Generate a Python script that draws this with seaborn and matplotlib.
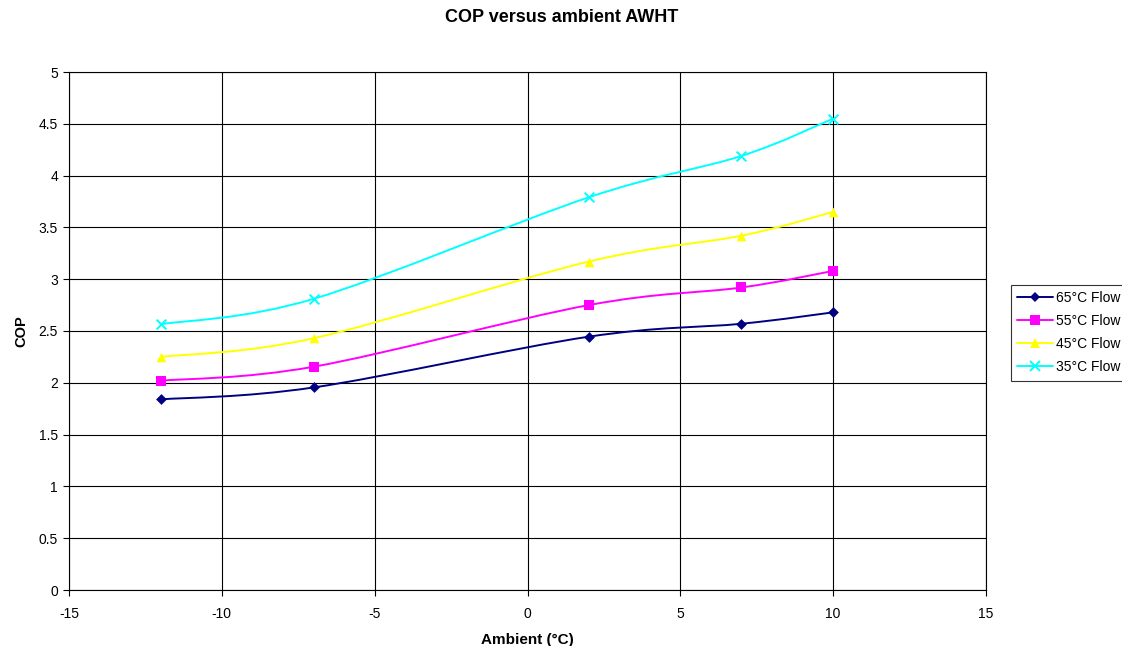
import numpy as np
import pandas as pd
import seaborn as sns
import matplotlib
matplotlib.use("Agg")
import matplotlib.pyplot as plt
from matplotlib.path import Path
from matplotlib.patches import PathPatch
from matplotlib.lines import Line2D

# Heat pump COP at each ambient temperature, per flow temperature
ambient = [-12, -7, 2, 7, 10]
cop_65 = [1.84, 1.955, 2.445, 2.57, 2.68]
cop_55 = [2.02, 2.155, 2.75, 2.92, 3.08]
cop_45 = [2.25, 2.43, 3.17, 3.42, 3.65]
cop_35 = [2.565, 2.81, 3.79, 4.19, 4.55]
series_names = ["65°C Flow", "55°C Flow", "45°C Flow", "35°C Flow"]

colors = ["#000080", "#FF00FF", "#FFFF00", "#00FFFF"]
markers = ["D", "s", "^", "x"]
msizes = [5.5, 6.5, 7, 7]

sns.set_style("white")
plt.rcParams["font.family"] = ["Liberation Sans", "DejaVu Sans"]
plt.rcParams["axes.unicode_minus"] = False
plt.rcParams["text.color"] = "black"
plt.rcParams["axes.labelcolor"] = "black"
plt.rcParams["xtick.color"] = "black"
plt.rcParams["ytick.color"] = "black"

frames = []
for name, vals in zip(series_names, [cop_65, cop_55, cop_45, cop_35]):
    frames.append(pd.DataFrame({"Ambient": ambient, "COP": vals, "Series": name}))
df = pd.concat(frames, ignore_index=True)

fig = plt.figure(figsize=(11.22, 6.46), dpi=100)
ax = fig.add_axes([69 / 1122, 1 - 590 / 646, (986 - 69) / 1122, (590 - 72) / 646])


def smooth_path(xs, ys):
    """Cubic Bezier path through the points (Catmull-Rom style, tension 1/6)."""
    pts = np.column_stack([xs, ys]).astype(float)
    n = len(pts)
    verts = [pts[0]]
    codes = [Path.MOVETO]
    for i in range(n - 1):
        p0 = pts[i - 1] if i > 0 else pts[i]
        p1 = pts[i]
        p2 = pts[i + 1]
        p3 = pts[i + 2] if i + 2 < n else pts[i + 1]
        c1 = p1 + (p2 - p0) / 6.0
        c2 = p2 - (p3 - p1) / 6.0
        verts += [c1, c2, p2]
        codes += [Path.CURVE4] * 3
    return Path(verts, codes)


for name, col in zip(series_names, colors):
    sub = df[df["Series"] == name]
    patch = PathPatch(smooth_path(sub["Ambient"].values, sub["COP"].values),
                      facecolor="none", edgecolor=col, lw=1.4, zorder=3)
    ax.add_patch(patch)

for name, col, mk, ms in zip(series_names, colors, markers, msizes):
    sub = df[df["Series"] == name]
    if mk == "x":
        sns.scatterplot(data=sub, x="Ambient", y="COP", ax=ax, marker="x",
                        color=col, s=ms ** 2, linewidth=1.4, zorder=4, legend=False)
    else:
        sns.scatterplot(data=sub, x="Ambient", y="COP", ax=ax, marker=mk,
                        color=col, s=ms ** 2, linewidth=0, zorder=4, legend=False)

ax.set_xlim(-15, 15)
ax.set_ylim(0, 5)
ax.set_xticks(np.arange(-15, 16, 5))
ax.set_yticks(np.arange(0, 5.01, 0.5))
ax.set_yticklabels([f"{v:g}" for v in np.arange(0, 5.01, 0.5)])
ax.grid(True, color="black", lw=0.8)
ax.set_axisbelow(True)
for sp in ax.spines.values():
    sp.set_color("black")
    sp.set_linewidth(0.8)
ax.tick_params(axis="both", direction="out", length=4, width=0.8, color="black",
               labelcolor="black", labelsize=10, pad=4, bottom=True, left=True)
ax.tick_params(axis="x", pad=8)

ax.set_xlabel("Ambient (°C)", fontsize=11, fontweight="bold", labelpad=9, color="black")
ax.set_ylabel("COP", fontsize=10.5, fontweight="bold", labelpad=7, color="black")
fig.text(562 / 1122, 1 - 18 / 646, "COP versus ambient AWHT", ha="center", va="center",
         fontsize=13, fontweight="bold", color="black")

handles = [Line2D([0], [0], color=c, marker=m, markersize=ms, lw=1.4,
                  markeredgewidth=1.4 if m == "x" else 0)
           for c, m, ms in zip(colors, markers, msizes)]
leg = fig.legend(handles, series_names, loc="upper left",
                 bbox_to_anchor=(1011 / 1122, 1 - 285 / 646),
                 frameon=True, fancybox=False, fontsize=10, handlelength=2.6,
                 handletextpad=0.2, borderpad=0.45, labelspacing=0.65,
                 borderaxespad=0)
leg.get_frame().set_edgecolor("black")
leg.get_frame().set_linewidth(0.8)
for t in leg.get_texts():
    t.set_color("black")

fig.savefig("out.png", dpi=100)
